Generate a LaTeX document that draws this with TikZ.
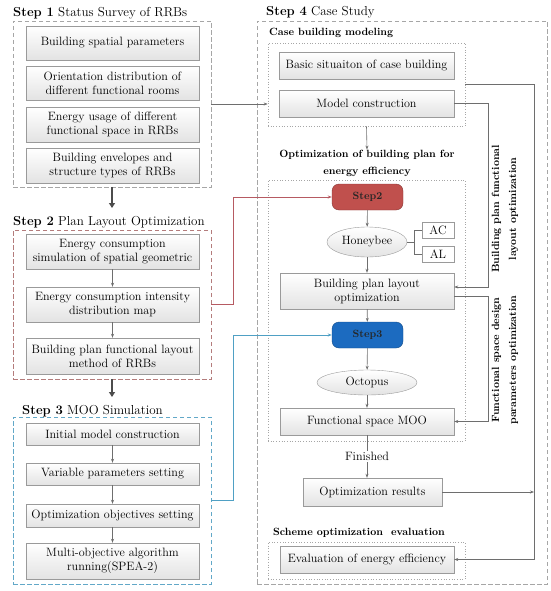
\documentclass[tikz,border=0pt]{standalone}
\usepackage{fontspec}
\usetikzlibrary{shapes.geometric,arrows.meta,shadows}

\definecolor{boxline}{HTML}{9A9A9A}
\definecolor{conn}{HTML}{6E6E6E}
\definecolor{redline}{HTML}{B65A62}
\definecolor{blueline}{HTML}{4FA0C4}
\definecolor{redframe}{HTML}{B47C7C}
\definecolor{blueframe}{HTML}{62A8C8}
\definecolor{stepred}{HTML}{C0504D}
\definecolor{stepblue}{HTML}{1C6BC0}

\tikzset{
  box/.style={draw=boxline, top color=white, bottom color=gray!22,
    drop shadow={opacity=0.25,shadow xshift=0.8pt,shadow yshift=-0.8pt},
    align=center, inner sep=1pt, font=\fontsize{12.1}{14}\selectfont},
  stepframe/.style={draw=#1, dash pattern=on 4.5pt off 2.5pt, line width=0.6pt, inner sep=0pt},
  dotbox/.style={draw=gray!70, dotted, line width=0.7pt, inner sep=0pt},
  title/.style={anchor=west, inner sep=0pt, font=\fontsize{13}{15}\selectfont},
  head/.style={inner sep=0pt, align=center, font=\fontsize{10.5}{17}\selectfont\bfseries},
  arr/.style={draw=conn, line width=0.6pt, -{Stealth[length=4pt,width=3pt]}},
  link/.style={draw=conn, line width=0.6pt},
  bigarr/.style={draw=gray!60!black, line width=2pt, -{Triangle[length=5pt,width=6pt]}},
  stepnode/.style={draw=#1!70!black, fill=#1, rounded corners=7pt, minimum width=71pt,
    minimum height=26pt, text=black!85, font=\fontsize{10.5}{12}\selectfont\bfseries},
  tool/.style={ellipse, draw=boxline, top color=white, bottom color=gray!22, inner sep=0pt,
    font=\fontsize{12.1}{14}\selectfont},
  tag/.style={draw=boxline, fill=white, minimum width=32pt, minimum height=16pt, inner sep=0pt,
    font=\fontsize{12.1}{14}\selectfont}
}

\begin{document}
\begin{tikzpicture}[x=1pt,y=-1pt]
  \useasboundingbox (0,0) rectangle (550,591);

  % step 1 to 3 on the left
  \node[title] (t1) at (13,13) {{\bfseries Step 1} Status Survey of RRBs};
  \node[stepframe=gray!70, minimum width=198pt, minimum height=166pt] (f1) at (112,104) {};
  \node[box, minimum width=173pt, minimum height=34pt] (b11) at (112.5,43) {Building spatial parameters};
  \node[box, minimum width=173pt, minimum height=34pt] (b12) at (112.5,83) {Orientation distribution of\\different functional rooms};
  \node[box, minimum width=173pt, minimum height=35pt] (b13) at (112.5,124.5) {Energy usage of different\\functional space in RRBs};
  \node[box, minimum width=173pt, minimum height=35pt] (b14) at (112.5,165.5) {Building envelopes and\\structure types of RRBs};

  \node[title] (t2) at (13,222) {{\bfseries Step 2} Plan Layout Optimization};
  \node[stepframe=redframe, minimum width=198pt, minimum height=149pt] (f2) at (112,304.5) {};
  \node[box, minimum width=173pt, minimum height=35pt] (b21) at (112.5,251.5) {Energy consumption\\simulation of spatial geometric};
  \node[box, minimum width=173pt, minimum height=35pt] (b22) at (112.5,304.5) {Energy consumption intensity\\distribution map};
  \node[box, minimum width=173pt, minimum height=36pt] (b23) at (112.5,356) {Building plan functional layout\\method of RRBs};

  \node[title] (t3) at (22,411) {{\bfseries Step 3} MOO Simulation};
  \node[stepframe=blueframe, minimum width=198pt, minimum height=167pt] (f3) at (112,500.5) {};
  \node[box, minimum width=173pt, minimum height=22pt] (b31) at (112.5,434) {Initial model construction};
  \node[box, minimum width=173pt, minimum height=22pt] (b32) at (112.5,474) {Variable parameters setting};
  \node[box, minimum width=173pt, minimum height=23pt] (b33) at (112.5,515.5) {Optimization objectives setting};
  \node[box, minimum width=173pt, minimum height=36pt] (b34) at (112.5,561) {Multi-objective algorithm\\running(SPEA-2)};

  \draw[arr] (b21) -- (b22);
  \draw[arr] (b22) -- (b23);
  \draw[arr] (b31) -- (b32);
  \draw[arr] (b32) -- (b33);
  \draw[arr] (b33) -- (b34);

  \coordinate (a2) at (112,208);
  \coordinate (a3) at (112,397);
  \draw[bigarr] (f1.south) -- (a2);
  \draw[bigarr] (f2.south) -- (a3);

  % step 4 on the right
  \node[title] (t4) at (266,12) {{\bfseries Step 4} Case Study};
  \node[stepframe=gray!70, minimum width=290pt, minimum height=563pt] (f4) at (402,302.5) {};

  \node[head, anchor=west] (h1) at (269,33) {Case building modeling};
  \node[dotbox, minimum width=197pt, minimum height=83pt] (d1) at (366.5,84.5) {};
  \node[box, minimum width=175pt, minimum height=27pt] (c1) at (366.5,65.5) {Basic situaiton of case building};
  \node[box, minimum width=175pt, minimum height=27pt] (c2) at (366.5,103.5) {Model construction};

  \node[head] (h2) at (367,163) {Optimization of building plan for\\energy efficiency};
  \node[dotbox, minimum width=197pt, minimum height=261pt] (d2) at (366.5,310.5) {};
  \node[stepnode=stepred] (s2) at (367.5,197) {Step2};
  \node[tool, minimum width=80pt, minimum height=30pt] (hb) at (367,242) {Honeybee};
  \node[tag] (ac) at (438,230) {AC};
  \node[tag] (al) at (438,254) {AL};
  \node[box, minimum width=174pt, minimum height=36pt] (c3) at (367,291) {Building plan layout\\optimization};
  \node[stepnode=stepblue] (s3) at (367.5,335) {Step3};
  \node[tool, minimum width=100pt, minimum height=25pt] (oc) at (367,382.5) {Octopus};
  \node[box, minimum width=174pt, minimum height=27pt] (c4) at (367,421.5) {Functional space MOO};

  \node[box, minimum width=139pt, minimum height=28pt] (c5) at (372.5,492) {Optimization results};

  \node[head, anchor=west] (h3) at (273,533) {Scheme optimization\ \ evaluation};
  \node[dotbox, minimum width=197pt, minimum height=37pt] (d3) at (366.5,560.5) {};
  \node[box, minimum width=174pt, minimum height=27pt] (c6) at (367,559.5) {Evaluation of energy efficiency};

  \draw[arr] (d1.south) -- (h2.north);
  \draw[arr] (s2) -- (hb);
  \draw[link] (hb.east) -- ++(7,0) coordinate (hbk);
  \draw[link] (ac.west) -| (hbk) |- (al.west);
  \draw[arr] (hb) -- (c3);
  \draw[arr] (c3) -- (s3);
  \draw[arr] (s3) -- (oc);
  \draw[arr] (oc) -- (c4);
  \draw[arr] (c4.south) -- (c4.south |- c5.north)
    node[midway, fill=white, inner sep=1pt, font=\fontsize{12.1}{14}\selectfont] (fin) {Finished};

  % feedback lines on the right
  \coordinate (iv) at (488,0);
  \coordinate (rv) at (534,0);
  \draw[arr] (c2.east) -- (c2.east -| iv) |- ([yshift=4pt]c3.east);
  \draw[arr] ([yshift=-5pt]c3.east) -- ([yshift=-5pt]c3.east -| iv) |- (c4.east);
  \draw[arr] (d1.east) -- (d1.east -| rv) |- (c6.east);
  \draw[arr] (c5.east) -- (c5.east -| rv);
  \node[head, rotate=90] (v1) at (505,209) {Building plan functional\\layout optimization};
  \node[head, rotate=90] (v2) at (505,360) {Functional space design\\parameters optimization};

  % links between the steps
  \coordinate (lk) at (233,0);
  \draw[arr] (f1.east) -- (f1.east -| d1.west);
  \draw[draw=redline, line width=0.7pt, -{Stealth[length=4pt,width=3pt]}] (f2.east) -- (f2.east -| lk) |- (s2.west);
  \draw[draw=blueline, line width=0.7pt, -{Stealth[length=4pt,width=3pt]}] (f3.east) -- (f3.east -| lk) |- (s3.west);
\end{tikzpicture}
\end{document}
